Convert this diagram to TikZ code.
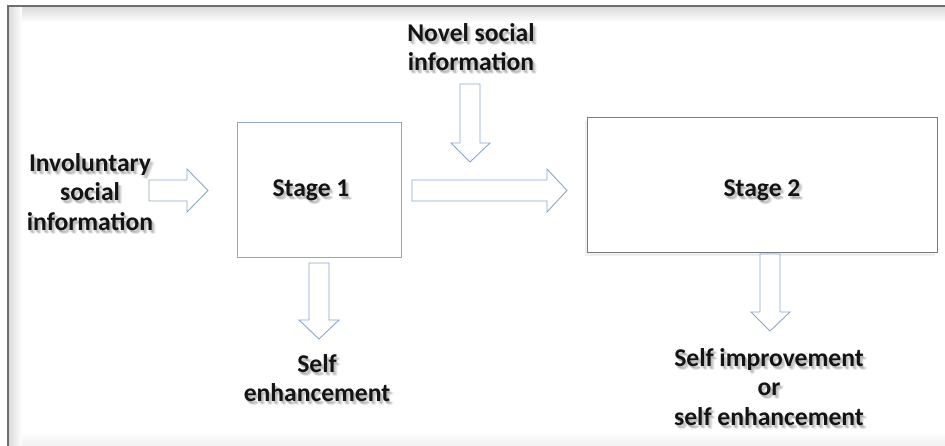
\documentclass[tikz,border=0pt]{standalone}
\usepackage{fontspec}
\setmainfont{Carlito}
\usetikzlibrary{shadows}
\definecolor{arrowblue}{RGB}{140,166,206}
\definecolor{framegray}{RGB}{110,110,110}
\definecolor{boxgray}{RGB}{125,125,125}
\tikzset{
  lbltext/.style={font=\bfseries\fontsize{25.6}{29.5}\selectfont, align=center, inner sep=0pt, text=black!92},
  blockarrow/.style={draw=arrowblue, line width=0.9pt, fill=white, line join=miter},
  stagebox/.style={line width=1pt, fill=white}
}
\newcommand\shadowlbl[3]{%
  \foreach \dx/\dy/\op in {2/3/0.10, 3/4/0.08, 1/2/0.10, 4/3/0.06}
    \node[lbltext, text=black, opacity=\op, xshift=\dx pt, yshift=-\dy pt] at (#2) {#3};
  \node[lbltext] (#1) at (#2) {#3};}
\begin{document}
\begin{tikzpicture}[x=1pt, y=-1pt]
\useasboundingbox (0,0) rectangle (945,446);
\fill[white] (0,0) rectangle (945,446);
% frame shadows
\shade[top color=black!14, bottom color=white] (9,7) rectangle (945,22);
\shade[left color=black!14, right color=white] (9,7) rectangle (22,446);
\shade[top color=white, bottom color=black!6] (22,432) rectangle (945,446);
% frame
\draw[framegray, line width=2pt] (8,446) -- (8,6) -- (945,6);

% stage boxes
\node[stagebox, draw=arrowblue, minimum width=164pt, minimum height=135pt, inner sep=0pt] (s1box) at (319,190.5) {};
\node[stagebox, draw=boxgray, minimum width=350pt, minimum height=135pt, inner sep=0pt,
      drop shadow={opacity=0.12, shadow xshift=-2pt, shadow yshift=-3pt}] (s2box) at (762,185.5) {};

% block arrows
\draw[blockarrow] (149,180) -- (187,180) -- (187,169) -- (208,190.5) -- (187,212) -- (187,201) -- (149,201) -- cycle;
\draw[blockarrow] (412,180) -- (547,180) -- (547,169) -- (567,190.5) -- (547,212) -- (547,201) -- (412,201) -- cycle;
\draw[blockarrow] (460,84) -- (480,84) -- (480,143) -- (490,143) -- (470,162) -- (451,143) -- (460,143) -- cycle;
\draw[blockarrow] (309,263) -- (329,263) -- (329,320) -- (339,320) -- (319,339) -- (299,320) -- (309,320) -- cycle;
\draw[blockarrow] (760,254) -- (780,254) -- (780,312) -- (790,312) -- (770,331) -- (751,312) -- (760,312) -- cycle;

% labels
\shadowlbl{inv}{90,192}{Involuntary\\social\\information}
\shadowlbl{novel}{471,47}{Novel social\\information}
\shadowlbl{s1}{311,190}{Stage 1}
\shadowlbl{s2}{762,190}{Stage 2}
\shadowlbl{selfenh}{317,378}{Self\\enhancement}
\shadowlbl{selfimp}{769,387}{Self improvement\\or\\self enhancement}
\end{tikzpicture}
\end{document}
